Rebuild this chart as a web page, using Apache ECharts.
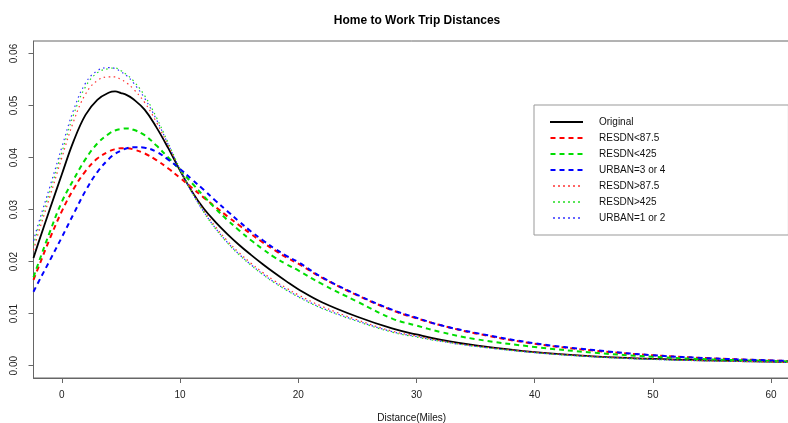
<!DOCTYPE html>
<html>
<head>
<meta charset="utf-8">
<script src="https://cdn.jsdelivr.net/npm/echarts@6/dist/echarts.min.js"></script>
<style>html,body{margin:0;padding:0;background:#fff}#c{width:788px;height:423px}</style>
</head>
<body>
<div id="c"></div>
<script>
const xValues = [-2.4, -2, -1, 0, 1, 2, 3, 4, 4.5, 5, 5.5, 6, 7, 8, 9, 10, 11, 12, 13, 14, 15, 16, 17, 18, 19, 20, 22, 25, 28, 30, 32, 35, 40, 45, 50, 55, 60, 61.5];

const original   = [0.0207, 0.0235, 0.0302, 0.0368, 0.0432, 0.0482, 0.0511, 0.0525, 0.0527, 0.0524, 0.0520, 0.0513, 0.0492, 0.0458, 0.0418, 0.0375, 0.0335, 0.0302, 0.0276, 0.0253, 0.0232, 0.0213, 0.0195, 0.0178, 0.0162, 0.0147, 0.0122, 0.0094, 0.0071, 0.0060, 0.0050, 0.0039, 0.0026, 0.0018, 0.0013, 0.0010, 0.0008, 0.0007];
const resdnLt875 = [0.0165, 0.0188, 0.0245, 0.0297, 0.0340, 0.0374, 0.0398, 0.0412, 0.0416, 0.0418, 0.0418, 0.0416, 0.0408, 0.0395, 0.0379, 0.0361, 0.0342, 0.0323, 0.0305, 0.0287, 0.0270, 0.0253, 0.0237, 0.0222, 0.0208, 0.0196, 0.0169, 0.0135, 0.0106, 0.0091, 0.0078, 0.0062, 0.0042, 0.0029, 0.0020, 0.0014, 0.0010, 0.0009];
const resdnLt425 = [0.0170, 0.0196, 0.0258, 0.0315, 0.0358, 0.0397, 0.0427, 0.0446, 0.0452, 0.0455, 0.0456, 0.0454, 0.0443, 0.0423, 0.0400, 0.0376, 0.0351, 0.0326, 0.0302, 0.0280, 0.0260, 0.0241, 0.0224, 0.0208, 0.0195, 0.0183, 0.0157, 0.0123, 0.0090, 0.0077, 0.0065, 0.0051, 0.0036, 0.0025, 0.0017, 0.0012, 0.0009, 0.0008];
const urban34    = [0.0142, 0.0160, 0.0203, 0.0247, 0.0292, 0.0336, 0.0372, 0.0398, 0.0407, 0.0413, 0.0418, 0.0420, 0.0419, 0.0411, 0.0396, 0.0378, 0.0358, 0.0338, 0.0317, 0.0297, 0.0277, 0.0258, 0.0241, 0.0225, 0.0211, 0.0199, 0.0170, 0.0136, 0.0107, 0.0092, 0.0078, 0.0063, 0.0043, 0.0030, 0.0020, 0.0014, 0.0010, 0.0009];
const resdnGt875 = [0.0222, 0.0254, 0.0326, 0.0400, 0.0470, 0.0522, 0.0548, 0.0555, 0.0555, 0.0550, 0.0543, 0.0533, 0.0506, 0.0468, 0.0423, 0.0377, 0.0335, 0.0298, 0.0267, 0.0240, 0.0217, 0.0197, 0.0179, 0.0163, 0.0149, 0.0136, 0.0114, 0.0088, 0.0066, 0.0057, 0.0048, 0.0038, 0.0026, 0.0018, 0.0013, 0.0009, 0.0007, 0.0006];
const resdnGt425 = [0.0232, 0.0264, 0.0336, 0.0410, 0.0483, 0.0536, 0.0563, 0.0571, 0.0572, 0.0567, 0.0559, 0.0549, 0.0519, 0.0477, 0.0428, 0.0378, 0.0333, 0.0295, 0.0263, 0.0236, 0.0213, 0.0193, 0.0175, 0.0159, 0.0145, 0.0132, 0.0110, 0.0085, 0.0064, 0.0055, 0.0047, 0.0037, 0.0025, 0.0017, 0.0012, 0.0009, 0.0007, 0.0006];
const urban12    = [0.0240, 0.0272, 0.0345, 0.0420, 0.0492, 0.0543, 0.0567, 0.0573, 0.0571, 0.0565, 0.0557, 0.0545, 0.0514, 0.0473, 0.0425, 0.0377, 0.0333, 0.0296, 0.0264, 0.0237, 0.0214, 0.0194, 0.0176, 0.0160, 0.0146, 0.0133, 0.0111, 0.0086, 0.0065, 0.0056, 0.0047, 0.0037, 0.0025, 0.0017, 0.0012, 0.0009, 0.0007, 0.0006];

const seriesNames = ['Original', 'RESDN<87.5', 'RESDN<425', 'URBAN=3 or 4', 'RESDN>87.5', 'RESDN>425', 'URBAN=1 or 2'];
const xTicks = [0, 10, 20, 30, 40, 50, 60];
const yTicks = [0, 0.01, 0.02, 0.03, 0.04, 0.05, 0.06];
const titleText = 'Home to Work Trip Distances';
const xLabel = 'Distance(Miles)';

const valuesList = [original, resdnLt875, resdnLt425, urban34, resdnGt875, resdnGt425, urban12];
const styles = [
  {color: '#000000', width: 1.8, type: 'solid'},
  {color: '#ff0000', width: 2, type: [5, 4]},
  {color: '#00dd00', width: 2, type: [5, 4]},
  {color: '#0000ff', width: 2, type: [5, 4]},
  {color: '#ff3333', width: 1.2, type: [1.5, 3.5]},
  {color: '#22dd22', width: 1.2, type: [1.5, 3.5]},
  {color: '#3333ff', width: 1.2, type: [1.5, 3.5]}
];
const solidIcon = 'path://M0,0h33v2h-33z';
const dashIcon = 'path://M0,0h5v2h-5zM9,0h5v2h-5zM18,0h5v2h-5zM27,0h5v2h-5z';
const dotIcon = 'path://M0,0h1.5v2h-1.5zM5,0h1.5v2h-1.5zM10,0h1.5v2h-1.5zM15,0h1.5v2h-1.5zM20,0h1.5v2h-1.5zM25,0h1.5v2h-1.5z';
const icons = [solidIcon, dashIcon, dashIcon, dashIcon, dotIcon, dotIcon, dotIcon];

const series = seriesNames.map((name, k) => ({
  name: name,
  type: 'line',
  smooth: 0.4,
  symbol: 'none',
  silent: true,
  animation: false,
  data: xValues.map((x, i) => [x, valuesList[k][i]]),
  lineStyle: styles[k],
  itemStyle: {color: styles[k].color}
}));

const chart = echarts.init(document.getElementById('c'), null, {renderer: 'canvas'});
chart.setOption({
  animation: false,
  backgroundColor: '#fff',
  title: {
    text: titleText,
    left: 412,
    textAlign: 'center',
    top: 10,
    textStyle: {fontFamily: 'Liberation Sans', fontSize: 12, fontWeight: 'bold', color: '#000'}
  },
  legend: {
    orient: 'vertical',
    left: 534,
    top: 105,
    padding: [12, 123, 12, 16],
    itemWidth: 33,
    itemHeight: 2,
    itemGap: 6,
    borderColor: '#999',
    borderWidth: 1,
    backgroundColor: '#fff',
    selectedMode: false,
    textStyle: {fontFamily: 'Liberation Sans', fontSize: 10, color: '#111', padding: [0, 0, 0, 11]},
    data: seriesNames.map((n, k) => ({name: n, icon: icons[k]}))
  },
  grid: {left: 33.5, top: 41, right: -2, bottom: 45, show: true, borderColor: '#666', borderWidth: 1, containLabel: false, outerBoundsMode: 'none'},
  xAxis: {
    type: 'value',
    min: -2.4,
    max: 61.6,
    name: xLabel,
    nameLocation: 'middle',
    nameGap: 35,
    nameTextStyle: {fontFamily: 'Liberation Sans', fontSize: 10, color: '#111'},
    axisLine: {show: true, onZero: false, lineStyle: {color: '#666'}},
    axisTick: {show: true, length: 5, customValues: xTicks, lineStyle: {color: '#666'}},
    axisLabel: {customValues: xTicks, margin: 12, fontFamily: 'Liberation Sans', fontSize: 10, color: '#222'},
    splitLine: {show: false}
  },
  yAxis: {
    type: 'value',
    min: -0.00237,
    max: 0.0624,
    axisLine: {show: true, onZero: false, lineStyle: {color: '#666'}},
    axisTick: {show: true, length: 5, customValues: yTicks, lineStyle: {color: '#666'}},
    axisLabel: {customValues: yTicks, rotate: 90, margin: 14, fontFamily: 'Liberation Sans', fontSize: 10, color: '#222', formatter: v => v.toFixed(2)},
    splitLine: {show: false}
  },
  series: series
});
</script>
</body>
</html>
